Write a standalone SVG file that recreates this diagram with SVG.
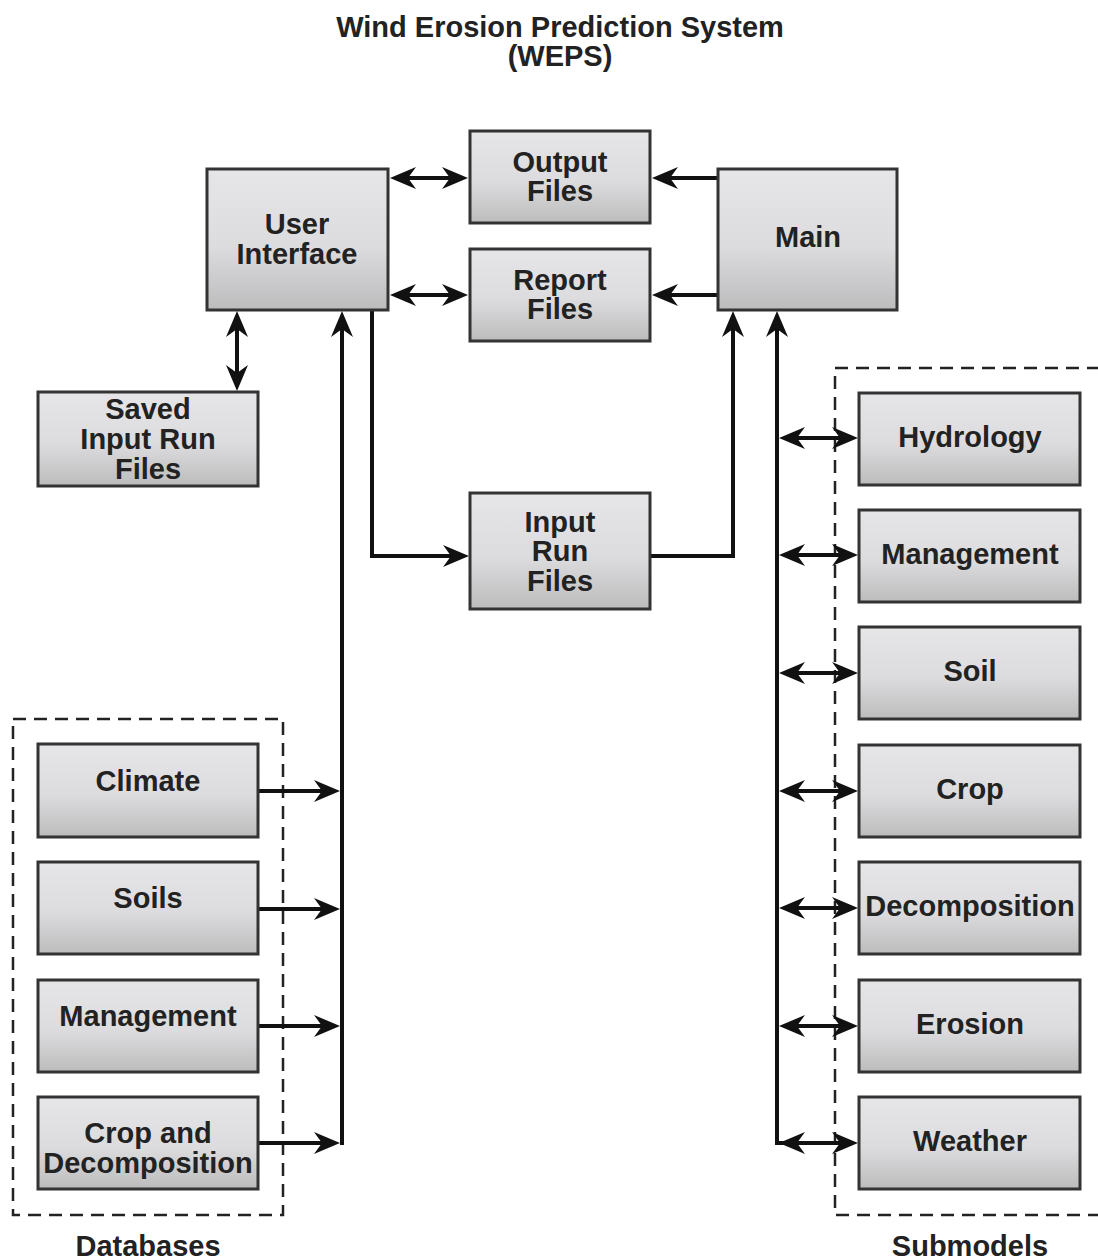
<svg xmlns="http://www.w3.org/2000/svg" width="1098" height="1260" viewBox="0 0 1098 1260">
<defs>
<linearGradient id="g" x1="0" y1="0" x2="0" y2="1">
<stop offset="0" stop-color="#e6e6e8"/>
<stop offset="0.55" stop-color="#dcdcde"/>
<stop offset="1" stop-color="#bcbcbd"/>
</linearGradient>
<marker id="ah" viewBox="0 0 26 22" refX="20" refY="11" markerWidth="26" markerHeight="22" markerUnits="userSpaceOnUse" orient="auto-start-reverse">
<path d="M0,0 L26,11 L0,22 L8,11 Z" fill="#111"/>
</marker>
<style>
.box{fill:url(#g);stroke:#333;stroke-width:3}
.t{font-family:"Liberation Sans",Arial,sans-serif;font-weight:bold;font-size:29px;fill:#222;text-anchor:middle}
.c{fill:none;stroke:#111;stroke-width:4}
.a{marker-end:url(#ah)}
.d{marker-start:url(#ah);marker-end:url(#ah)}
.dash{fill:none;stroke:#222;stroke-width:2.5;stroke-dasharray:13 8}
</style>
</defs>
<rect width="1098" height="1260" fill="#fff"/>
<g id="title">
<text class="t" x="560" y="37">Wind Erosion Prediction System</text>
<text class="t" x="560" y="66">(WEPS)</text>
</g>
<g id="groups">
<rect class="dash" x="13" y="719" width="270" height="496"/>
<path class="dash" d="M1100,368 H835 V1215 H1100"/>
<text class="t" x="148" y="1256">Databases</text>
<text class="t" x="970" y="1256">Submodels</text>
</g>
<g id="connectors">
<path class="c d" d="M396,178 H462"/>
<path class="c d" d="M396,295 H462"/>
<path class="c a" d="M718,178 H658"/>
<path class="c a" d="M718,295 H658"/>
<path class="c d" d="M237,317 V385"/>
<path class="c a" d="M372,310 V556 H463"/>
<path class="c a" d="M650,556 H733 V317"/>
<path class="c a" d="M342,1145 V317"/>
<path class="c a" d="M258,791 H334"/>
<path class="c a" d="M258,909 H334"/>
<path class="c a" d="M258,1026 H334"/>
<path class="c a" d="M258,1143 H334"/>
<path class="c a" d="M777,1145 V317"/>
<path class="c d" d="M785,438 H852"/>
<path class="c d" d="M785,555 H852"/>
<path class="c d" d="M785,673 H852"/>
<path class="c d" d="M785,791 H852"/>
<path class="c d" d="M785,908 H852"/>
<path class="c d" d="M785,1026 H852"/>
<path class="c" d="M777,1143 H800"/>
<path class="c d" d="M785,1143 H852"/>
</g>
<g id="user-interface"><rect class="box" x="207" y="169" width="181" height="141"/><text class="t" x="297" y="234">User</text><text class="t" x="297" y="264">Interface</text></g>
<g id="output-files"><rect class="box" x="470" y="131" width="180" height="92"/><text class="t" x="560" y="172">Output</text><text class="t" x="560" y="201">Files</text></g>
<g id="report-files"><rect class="box" x="470" y="249" width="180" height="92"/><text class="t" x="560" y="290">Report</text><text class="t" x="560" y="319">Files</text></g>
<g id="main"><rect class="box" x="718" y="169" width="179" height="141"/><text class="t" x="808" y="247">Main</text></g>
<g id="saved-input"><rect class="box" x="38" y="392" width="220" height="94"/><text class="t" x="148" y="419">Saved</text><text class="t" x="148" y="449">Input Run</text><text class="t" x="148" y="479">Files</text></g>
<g id="input-run"><rect class="box" x="470" y="493" width="180" height="116"/><text class="t" x="560" y="532">Input</text><text class="t" x="560" y="561">Run</text><text class="t" x="560" y="591">Files</text></g>
<g id="db-climate"><rect class="box" x="38" y="744" width="220" height="93"/><text class="t" x="148" y="791">Climate</text></g>
<g id="db-soils"><rect class="box" x="38" y="862" width="220" height="92"/><text class="t" x="148" y="908">Soils</text></g>
<g id="db-management"><rect class="box" x="38" y="980" width="220" height="92"/><text class="t" x="148" y="1026">Management</text></g>
<g id="db-crop"><rect class="box" x="38" y="1097" width="220" height="92"/><text class="t" x="148" y="1143">Crop and</text><text class="t" x="148" y="1173">Decomposition</text></g>
<g id="sm-hydrology"><rect class="box" x="859" y="393" width="221" height="92"/><text class="t" x="970" y="447">Hydrology</text></g>
<g id="sm-management"><rect class="box" x="859" y="510" width="221" height="92"/><text class="t" x="970" y="564">Management</text></g>
<g id="sm-soil"><rect class="box" x="859" y="627" width="221" height="92"/><text class="t" x="970" y="681">Soil</text></g>
<g id="sm-crop"><rect class="box" x="859" y="745" width="221" height="92"/><text class="t" x="970" y="799">Crop</text></g>
<g id="sm-decomposition"><rect class="box" x="859" y="862" width="221" height="92"/><text class="t" x="970" y="916">Decomposition</text></g>
<g id="sm-erosion"><rect class="box" x="859" y="980" width="221" height="92"/><text class="t" x="970" y="1034">Erosion</text></g>
<g id="sm-weather"><rect class="box" x="859" y="1097" width="221" height="92"/><text class="t" x="970" y="1151">Weather</text></g>
</svg>
